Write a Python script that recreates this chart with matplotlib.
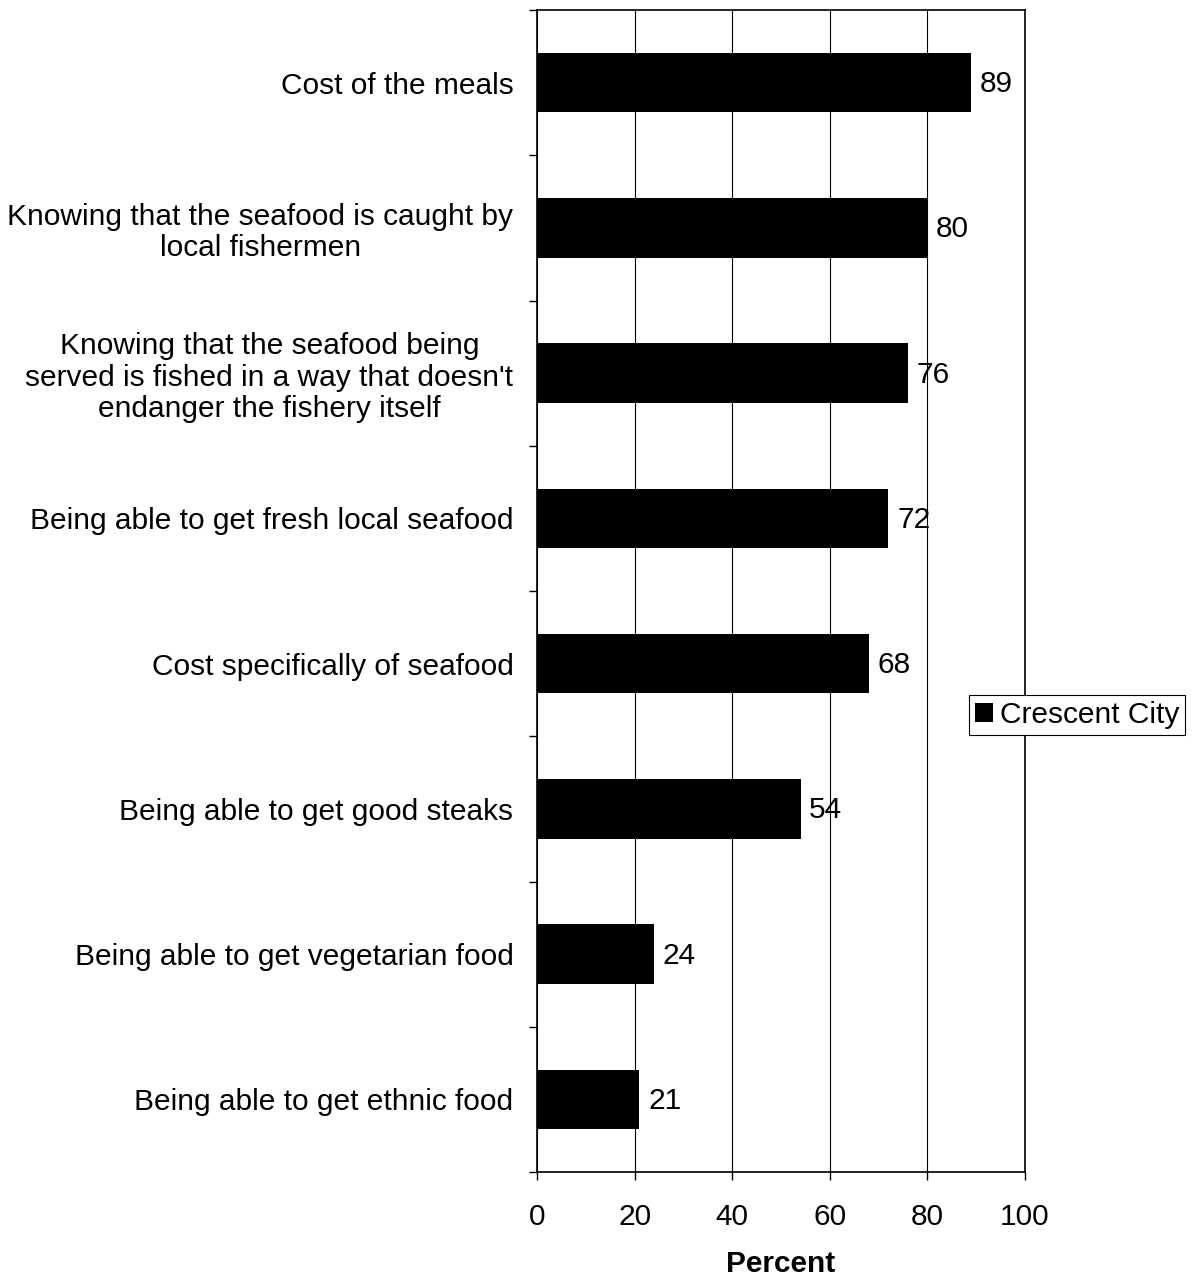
import matplotlib
matplotlib.use("Agg")
import matplotlib.pyplot as plt
import numpy as np

categories = [
    "Cost of the meals",
    "Knowing that the seafood is caught by\nlocal fishermen",
    "Knowing that the seafood being\nserved is fished in a way that doesn't\nendanger the fishery itself",
    "Being able to get fresh local seafood",
    "Cost specifically of seafood",
    "Being able to get good steaks",
    "Being able to get vegetarian food",
    "Being able to get ethnic food",
]
values = [89, 80, 76, 72, 68, 54, 24, 21]
series_name = "Crescent City"
xticks = [0, 20, 40, 60, 80, 100]

plt.rcParams['font.family'] = ['Liberation Sans', 'DejaVu Sans']
FS = 21.5

fig = plt.figure(figsize=(11.98, 12.8), dpi=100)
ax = fig.add_axes([537/1198, 1 - 1172/1280, (1025-537)/1198, (1172-10)/1280])

n = len(categories)
ypos = np.arange(n)
bars = ax.barh(ypos, values, height=0.41, color='black', label=series_name, zorder=3)
ax.set_ylim(n - 0.5, -0.5)
ax.set_xlim(0, 100)

for y, v in zip(ypos, values):
    ax.text(v + 1.8, y + 0.01, f"{v}", va='center', ha='left', fontsize=FS, zorder=4)

ax.set_xticks(xticks)
ax.set_xticklabels([str(t) for t in xticks], fontsize=FS)
ax.tick_params(axis='x', direction='out', length=6, width=1, pad=16)
ax.grid(axis='x', color='black', linewidth=0.8, zorder=0)

ax.set_yticks(np.arange(-0.5, n, 1.0))
ax.set_yticklabels([])
ax.tick_params(axis='y', which='major', direction='out', length=6, width=1)
ax.set_yticks(ypos, minor=True)
ax.set_yticklabels(categories, minor=True, fontsize=FS, multialignment='center',
                   linespacing=1.15)
ax.tick_params(axis='y', which='minor', length=0, pad=17)

for s in ax.spines.values():
    s.set_linewidth(1.2)
    s.set_color('black')

ax.set_xlabel("Percent", fontsize=FS, fontweight='bold', labelpad=14)

leg = fig.legend(handles=[bars], labels=[series_name], loc='center',
                 bbox_to_anchor=(1077/1198, 1 - 715/1280), fontsize=FS,
                 frameon=True, fancybox=False, edgecolor='black', framealpha=1,
                 handlelength=0.6, handleheight=0.6, handletextpad=0.25,
                 borderpad=0.2, borderaxespad=0)
leg.get_frame().set_linewidth(0.8)

fig.savefig("out.png", dpi=100)
